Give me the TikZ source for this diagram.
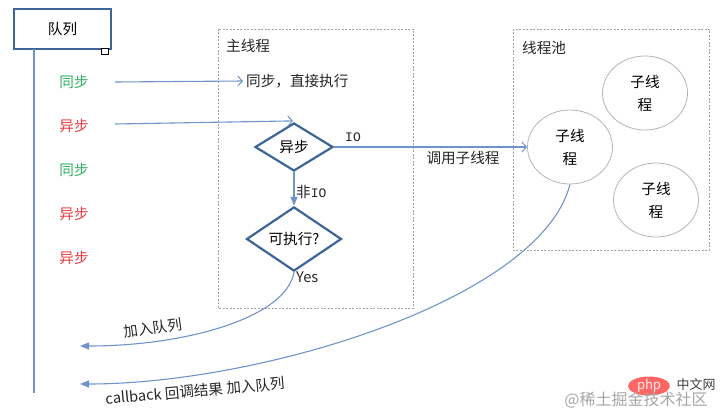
\documentclass[tikz,border=0pt]{standalone}
\usepackage{fontspec}
\setmainfont{Noto Sans CJK SC}
\newfontfamily\iofont{Liberation Mono}
\usetikzlibrary{shapes.geometric,arrows.meta}
\definecolor{boxblue}{HTML}{3D6595}
\definecolor{lineblue}{HTML}{6E94CA}
\definecolor{syncgreen}{HTML}{2EAF5E}
\definecolor{asyncred}{HTML}{E8393C}
\definecolor{dashgray}{HTML}{A0A0A0}
\definecolor{ellgray}{HTML}{B4B4B4}
\tikzset{
  txt/.style={font=\fontsize{14.6}{17}\selectfont, text=black!85, inner sep=0pt},
  synclbl/.style={txt, text=syncgreen},
  asynclbl/.style={txt, text=asyncred},
  regionbox/.style={draw=dashgray, line width=0.6pt, dash pattern=on 2pt off 1.5pt},
  decision/.style={shape=diamond, draw=boxblue, line width=2.2pt, fill=white, inner sep=0pt, font=\fontsize{14.6}{17}\selectfont},
  worker/.style={shape=ellipse, draw=ellgray, line width=0.8pt, minimum width=85pt, minimum height=74pt, align=center, font=\fontsize{14.6}{23}\selectfont, inner sep=0pt},
  conn/.style={draw=lineblue, line width=1.1pt},
  openhead/.style={-{Straight Barb[length=4.5pt,width=10pt,line width=1pt]}},
  solidhead/.style={-{Triangle[length=9pt,width=7pt]}},
}
\begin{document}
\begin{tikzpicture}[x=1pt,y=-1pt]
\useasboundingbox (0,0) rectangle (727,417);
% queue
\node[draw=boxblue, line width=2.2pt, minimum width=97pt, minimum height=40pt, inner sep=0pt, font=\fontsize{14.6}{17}\selectfont] (queue) at (62.5,29) {队列};
\node[draw=black, fill=white, line width=0.6pt, minimum size=6.5pt, inner sep=0pt] (handle) at (105,51.5) {};
\coordinate (qtop) at (34,49);
\coordinate (qbot) at (34,393);
\draw[conn, line width=1.3pt] (qtop) -- (qbot);
% queue labels
\node[synclbl] (s1) at (74,82) {同步};
\node[asynclbl] (a1) at (74,126) {异步};
\node[synclbl] (s2) at (74,170) {同步};
\node[asynclbl] (a2) at (74,214) {异步};
\node[asynclbl] (a3) at (74,258) {异步};
% regions
\draw[regionbox] (218,29) rectangle (413,308);
\draw[regionbox] (513,29) rectangle (709,250);
\node[txt, anchor=west] (mainlbl) at (226,46) {主线程};
\node[txt, anchor=west] (poollbl) at (522,48) {线程池};
% main thread
\node[txt, anchor=west, inner sep=3pt] (direct) at (243,81) {同步，直接执行};
\node[decision, minimum width=78pt, minimum height=48pt] (d1) at (294,147) {异步};
\node[decision, minimum width=95pt, minimum height=52pt] (d2) at (294,239) {可执行?};
% pool
\node[worker] (w1) at (570,147) {子线\\程};
\node[worker] (w2) at (645,93) {子线\\程};
\node[worker] (w3) at (656,200) {子线\\程};
% connectors
\coordinate (s1out) at (115,82);
\coordinate (a1out) at (115,124);
\draw[conn, openhead] (s1out) -- (direct.west);
\draw[conn, openhead] (a1out) -- ([xshift=-1pt,yshift=1pt]d1.north);
\draw[conn, openhead] (d1.east) -- (w1.west);
\draw[conn, solidhead] (d1.south) -- (d2.north);
\node[txt, font=\iofont\fontsize{13}{15}\selectfont] (iolbl) at (353,137) {IO};
\node[txt] (calllbl) at (463,158) {调用子线程};
\node[txt, anchor=west] (nonio) at (296,192) {非{\iofont\fontsize{13}{15}\selectfont IO}};
\node[txt, anchor=west] (yes) at (296,277) {Yes};
\coordinate (ret1) at (80,346);
\coordinate (ret2) at (80,384);
\draw[conn, solidhead] (d2.south) .. controls (286,318) and (185,346) .. (ret1);
\draw[conn, solidhead] (w1.south) .. controls (540,300) and (260,384) .. (ret2);
\node[txt, rotate=8] (join1) at (153,328) {加入队列};
\node[txt, rotate=5] (join2) at (195,391) {callback 回调结果 加入队列};
% watermark
\node[fill=red!70!white, opacity=0.85, shape=ellipse, minimum width=42pt, minimum height=19pt, inner sep=0pt, text=white, font=\itshape\fontsize{13}{15}\selectfont] (phplogo) at (649,386) {php};
\node[txt, text=black!75, font=\fontsize{13}{15}\selectfont] (cnsite) at (696,385) {中文网};
\node[txt, text=black!35, font=\fontsize{16}{18}\selectfont] (wm) at (636,400) {@稀土掘金技术社区};
\end{tikzpicture}
\end{document}
